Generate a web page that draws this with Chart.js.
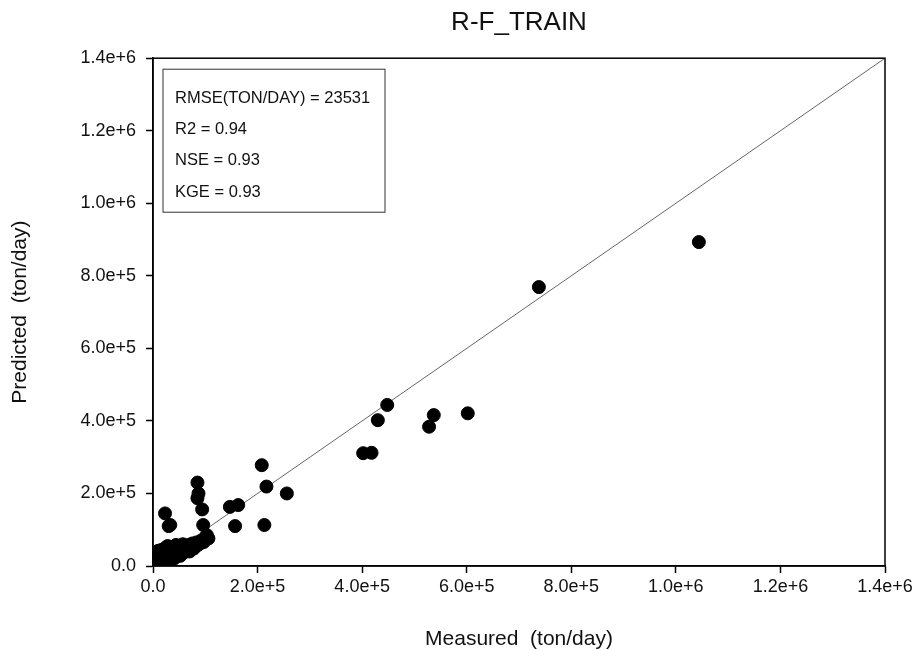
<!DOCTYPE html>
<html>
<head>
<meta charset="utf-8">
<script src="https://cdn.jsdelivr.net/npm/chart.js@4.4.1/dist/chart.umd.min.js"></script>
<style>
  html, body { margin: 0; padding: 0; background: #fff; }
  #wrap { width: 919px; height: 650px; }
</style>
</head>
<body>
<div id="wrap"><canvas id="scatter"></canvas></div>
<script>
// measured / predicted values (ton/day)
var measured = [
    1044000, 738000, 448000, 430000, 537000, 528000, 602000, 402000, 418000,
    208000, 217000, 256000, 147000, 163000, 157000, 213000,
    85000, 87000, 85000, 94000, 96000, 103000, 106000, 23000, 30000, 33000,
    2000, 3000, 5000, 6000, 8000, 10000, 10000, 12000, 14000, 15000, 17000, 18000,
    20000, 22000, 24000, 25000, 27000, 28000, 30000, 32000, 34000, 36000, 38000,
    40000, 42000, 44000, 46000, 48000, 50000, 52000, 55000, 57000, 60000, 62000,
    65000, 68000, 70000, 72000, 75000, 78000, 80000, 83000, 86000, 90000, 93000,
    97000, 100000, 1000, 4000, 7000, 3000
];
var predicted = [
    893000, 769000, 444000, 402000, 416000, 384000, 421000, 311000, 312000,
    278000, 219000, 200000, 163000, 168000, 110000, 113000,
    230000, 200000, 187000, 156000, 113000, 85000, 76000, 145000, 110000, 113000,
    3000, 10000, 2000, 18000, 30000, 8000, 42000, 20000, 35000, 5000, 45000, 25000,
    12000, 38000, 50000, 22000, 30000, 55000, 15000, 42000, 28000, 52000, 35000,
    20000, 45000, 58000, 32000, 40000, 50000, 28000, 45000, 60000, 38000, 52000,
    45000, 58000, 40000, 50000, 62000, 48000, 55000, 65000, 58000, 62000, 70000,
    66000, 72000, 12000, 25000, 5000, 35000
];
var lineEnds = [0, 1400000];
var tickValues = [0, 200000, 400000, 600000, 800000, 1000000, 1200000, 1400000];
var statLines = ['RMSE(TON/DAY) = 23531', 'R2 = 0.94', 'NSE = 0.93', 'KGE = 0.93'];

var FONT = '"Liberation Sans", Arial, sans-serif';

function fmtTick(v) {
    if (v === 0) return '0.0';
    var e = Math.floor(Math.log10(v) + 1e-9);
    var m = v / Math.pow(10, e);
    return m.toFixed(1) + 'e+' + e;
}

var points = measured.map(function (m, i) { return { x: m, y: predicted[i] }; });
var diag = lineEnds.map(function (v) { return { x: v, y: v }; });

var frame = {
    id: 'frame',
    afterDatasetsDraw: function (chart) {
        var a = chart.chartArea, ctx = chart.ctx;
        ctx.save();
        ctx.strokeStyle = '#000';
        ctx.lineWidth = 1.5;
        ctx.strokeRect(a.left, a.top, a.right - a.left, a.bottom - a.top);
        // stats box
        var bx = a.left + 10, by = a.top + 11;
        ctx.lineWidth = 1;
        ctx.strokeStyle = '#333';
        ctx.fillStyle = '#fff';
        ctx.fillRect(bx, by, 222, 143);
        ctx.strokeRect(bx, by, 222, 143);
        ctx.fillStyle = '#111';
        ctx.font = '16.5px ' + FONT;
        ctx.textBaseline = 'middle';
        statLines.forEach(function (t, i) {
            ctx.fillText(t, bx + 12, by + 29 + i * 31.3);
        });
        ctx.restore();
    }
};

new Chart(document.getElementById('scatter').getContext('2d'), {
    type: 'scatter',
    data: {
        datasets: [{
            label: '1:1',
            type: 'line',
            data: diag,
            borderColor: '#666',
            borderWidth: 1,
            pointRadius: 0,
            fill: false,
            order: 2
        }, {
            label: 'R-F_TRAIN',
            data: points,
            backgroundColor: '#000',
            borderColor: '#000',
            pointRadius: 6.5,
            pointHoverRadius: 6.5,
            order: 1
        }]
    },
    options: {
        responsive: true,
        maintainAspectRatio: false,
        animation: false,
        layout: { padding: { left: 0, right: 34, top: 0, bottom: 0 } },
        plugins: {
            legend: { display: false },
            tooltip: { enabled: false },
            title: {
                display: true,
                fullSize: false,
                text: 'R-F_TRAIN',
                color: '#111',
                font: { family: FONT, size: 26, weight: 'normal' },
                padding: { top: 7, bottom: 20 }
            }
        },
        scales: {
            x: {
                type: 'linear',
                min: 0,
                max: 1400000,
                afterBuildTicks: function (s) { s.ticks = tickValues.map(function (v) { return { value: v }; }); },
                afterFit: function (s) { s.height = 84; s.paddingLeft = 0; s.paddingRight = 0; },
                grid: { display: true, drawOnChartArea: false, drawTicks: true, tickLength: 7, color: '#000', tickWidth: 1.5 },
                border: { color: '#000', width: 1.5 },
                ticks: {
                    color: '#111',
                    padding: 3,
                    maxRotation: 0,
                    font: { family: FONT, size: 18 },
                    callback: function (v) { return fmtTick(v); }
                },
                title: {
                    display: true,
                    text: 'Measured  (ton/day)',
                    color: '#111',
                    font: { family: FONT, size: 21 },
                    padding: { top: 0, bottom: -2 }
                }
            },
            y: {
                type: 'linear',
                min: 0,
                max: 1400000,
                afterBuildTicks: function (s) { s.ticks = tickValues.map(function (v) { return { value: v }; }); },
                afterFit: function (s) { s.width = 153; s.paddingTop = 0; s.paddingBottom = 0; },
                grid: { display: true, drawOnChartArea: false, drawTicks: true, tickLength: 7, color: '#000', tickWidth: 1.5 },
                border: { color: '#000', width: 1.5 },
                ticks: {
                    color: '#111',
                    padding: 10,
                    font: { family: FONT, size: 18 },
                    callback: function (v) { return fmtTick(v); }
                },
                title: {
                    display: true,
                    text: 'Predicted  (ton/day)',
                    color: '#111',
                    font: { family: FONT, size: 21 },
                    padding: { top: 8, bottom: 0 }
                }
            }
        }
    },
    plugins: [frame]
});
</script>
</body>
</html>
